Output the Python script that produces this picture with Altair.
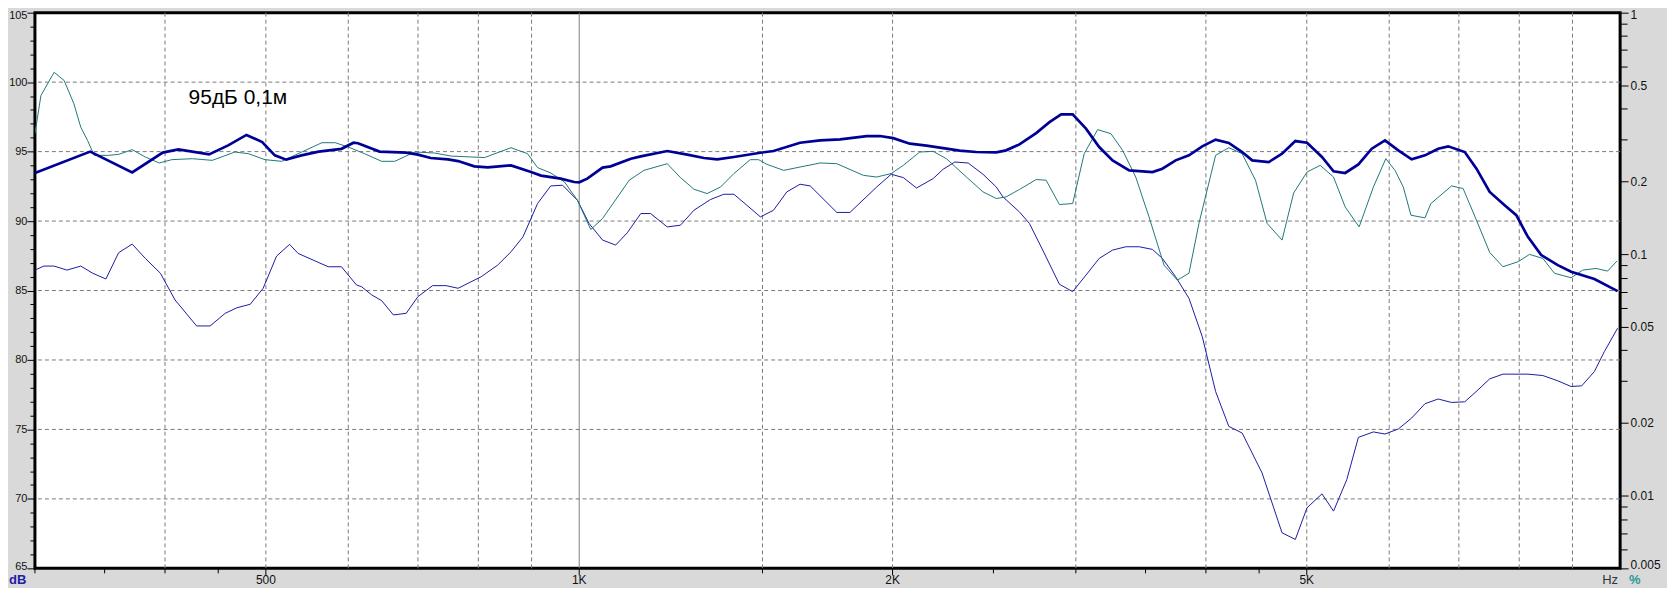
import altair as alt
import pandas as pd

# ---------------- data ----------------
navy_f = [300, 339, 372, 398, 412, 441, 460, 479, 496, 510, 523, 541, 562, 591, 607, 613,
          643, 682, 700, 720, 748, 765, 793, 817, 860, 899, 919, 960, 989, 1000, 1018, 1053,
          1072, 1121, 1146, 1215, 1270, 1318, 1357, 1408, 1493, 1537, 1630, 1704, 1781, 1889,
          1945, 2003, 2078, 2156, 2320, 2407, 2516, 2571, 2648, 2748, 2830, 2904, 2979, 3068,
          3159, 3254, 3376, 3554, 3633, 3741, 3853, 3968, 4087, 4208, 4334, 4431, 4597, 4734,
          4875, 5003, 5171, 5305, 5443, 5605, 5773, 5945, 6122, 6306, 6494, 6687, 6836, 7092,
          7278, 7494, 7746, 7948, 8155, 8399, 8712, 8973, 9447, 9945]
navy_db = [93.46, 95.0, 93.5, 94.93, 95.16, 94.8, 95.45, 96.2, 95.69, 94.73, 94.42, 94.73, 95.0,
           95.2, 95.64, 95.6, 95.0, 94.92, 94.78, 94.54, 94.44, 94.32, 93.94, 93.87, 94.01, 93.53,
           93.27, 93.05, 92.81, 92.79, 93.05, 93.85, 93.94, 94.49, 94.66, 95.04, 94.78, 94.54,
           94.44, 94.61, 94.92, 95.04, 95.64, 95.81, 95.88, 96.12, 96.12, 95.97, 95.57, 95.43,
           95.07, 94.97, 94.95, 95.09, 95.52, 96.33, 97.12, 97.68, 97.68, 96.65, 95.33, 94.37,
           93.65, 93.53, 93.77, 94.37, 94.73, 95.38, 95.86, 95.62, 94.97, 94.37, 94.25, 94.85,
           95.76, 95.64, 94.61, 93.58, 93.46, 94.08, 95.21, 95.81, 95.09, 94.44, 94.73, 95.21,
           95.38, 94.97, 93.77, 92.10, 91.14, 90.42, 88.86, 87.55, 86.83, 86.35, 85.83, 84.96]

teal_f = [300, 304, 313, 320, 327, 332, 337, 342, 353, 361, 372, 383, 395, 406, 425, 444, 467,
          481, 499, 518, 537, 566, 583, 600, 622, 646, 665, 695, 726, 753, 811, 860, 892, 912,
          939, 968, 996, 1026, 1053, 1117, 1154, 1215, 1251, 1289, 1327, 1367, 1408, 1460, 1487,
          1515, 1572, 1630, 1704, 1768, 1875, 1931, 1994, 2048, 2124, 2188, 2253, 2355, 2443,
          2516, 2571, 2648, 2748, 2809, 2893, 2979, 3056, 3148, 3242, 3327, 3425, 3527, 3646,
          3755, 3853, 3939, 4087, 4208, 4334, 4464, 4580, 4734, 4857, 5003, 5151, 5305, 5443,
          5614, 5794, 5955, 6078, 6190, 6296, 6494, 6580, 6888, 7066, 7278, 7494, 7717, 7977,
          8185, 8429, 8649, 8973, 9207, 9482, 9727, 9931]
teal_db = [96.29, 99.04, 100.71, 100.12, 98.44, 96.76, 95.81, 94.73, 94.73, 94.8, 95.14, 94.61,
           94.18, 94.42, 94.49, 94.37, 94.97, 94.85, 94.42, 94.30, 94.85, 95.64, 95.64, 95.33,
           94.85, 94.30, 94.30, 94.97, 94.90, 94.68, 94.57, 95.28, 94.85, 93.85, 93.46, 92.81,
           91.5, 89.39, 90.18, 92.94, 93.65, 94.13, 93.13, 92.29, 91.98, 92.45, 93.42, 94.42,
           94.42, 94.08, 93.65, 93.89, 94.18, 94.13, 93.29, 93.17, 93.42, 94.01, 94.97, 95.02,
           94.49, 93.17, 92.1, 91.62, 91.74, 92.27, 92.99, 92.94, 91.19, 91.26, 94.85, 96.58,
           96.29, 95.09, 93.17, 90.3, 86.83, 85.75, 86.24, 89.83, 94.73, 95.28, 94.85, 92.94,
           89.83, 88.63, 92.02, 93.53, 94.01, 93.17, 91.02, 89.58, 92.45, 94.49, 93.65, 92.45,
           90.42, 90.23, 91.26, 92.53, 92.34, 90.06, 87.74, 86.71, 87.07, 87.60, 87.31, 86.24,
           85.92, 86.47, 86.59, 86.40, 87.12]

blue_f = [300, 306, 313, 322, 332, 341, 351, 361, 372, 383, 396, 409, 429, 442, 457, 469, 483,
          497, 512, 527, 537, 574, 591, 611, 618, 632, 646, 663, 682, 700, 723, 745, 765, 805,
          835, 860, 883, 912, 939, 964, 996, 1022, 1053, 1084, 1112, 1146, 1171, 1215, 1251,
          1289, 1337, 1377, 1408, 1449, 1493, 1537, 1583, 1630, 1667, 1768, 1820, 1931, 1994,
          2048, 2109, 2188, 2237, 2295, 2364, 2443, 2516, 2553, 2648, 2707, 2788, 2893, 2979,
          3068, 3159, 3254, 3351, 3451, 3554, 3633, 3741, 3853, 3968, 4087, 4208, 4334, 4529,
          4734, 4875, 5003, 5171, 5305, 5463, 5605, 5794, 5945, 6122, 6306, 6494, 6687, 6888,
          7092, 7304, 7494, 7717, 8155, 8429, 8712, 8973, 9186, 9447, 9657, 9945]
blue_db = [86.47, 86.76, 86.76, 86.47, 86.76, 86.24, 85.83, 87.72, 88.34, 87.31, 86.24, 84.32,
           82.45, 82.45, 83.36, 83.76, 84.01, 85.16, 87.48, 88.32, 87.67, 86.71, 86.71, 85.40,
           85.27, 84.68, 84.27, 83.24, 83.36, 84.56, 85.35, 85.35, 85.16, 85.99, 86.83, 87.79,
           88.86, 91.26, 92.53, 92.58, 91.5, 89.83, 88.63, 88.27, 89.15, 90.54, 90.54, 89.58,
           89.7, 90.78, 91.55, 91.93, 91.93, 91.14, 90.30, 90.78, 92.1, 92.65, 92.53, 90.62,
           90.62, 92.45, 93.37, 93.13, 92.38, 93.06, 93.73, 94.25, 94.18, 93.37, 92.45, 91.74,
           90.66, 89.83, 87.91, 85.45, 84.92, 86.11, 87.31, 87.91, 88.15, 88.15, 87.96, 87.31,
           85.99, 84.44, 81.68, 77.73, 75.22, 74.74, 71.87, 67.56, 67.08, 69.36, 70.36, 69.12,
           71.39, 74.43, 74.82, 74.67, 75.03, 75.82, 76.85, 77.19, 76.94, 76.99, 77.85, 78.64,
           78.98, 78.98, 78.88, 78.50, 78.09, 78.14, 79.17, 80.6, 82.29]

# axes / grid values
x_major = [500, 1000, 2000, 5000]
x_major_labels = ["500", "1K", "2K", "5K"]
x_minor = [300, 350, 400, 450, 1500, 2500, 3000, 3500, 4000, 4500]
x_grid_dashed = [400, 500, 600, 700, 800, 900, 1500, 2000, 3000, 4000, 5000, 6000, 7000, 8000, 9000]
x_grid_solid = [1000]
y_ticks = list(range(65, 106))
y_grid = [70, 75, 80, 85, 90, 95, 100]
pct_ticks = [1, 0.9, 0.8, 0.7, 0.6, 0.5, 0.4, 0.3, 0.2,
             0.1, 0.09, 0.08, 0.07, 0.06, 0.05, 0.04, 0.03, 0.02,
             0.01, 0.009, 0.008, 0.007, 0.006, 0.005]
pct_labels = [1, 0.5, 0.2, 0.1, 0.05, 0.02, 0.01, 0.005]
note_text = ["95дБ 0,1м"]
note_f = [470]
note_db = [98.4]
unit_texts = ["dB", "Hz", "%"]

# ---------------- chart ----------------
W, H = 1589, 557
FONT = "Liberation Sans"
GRID = "#7a7a7a"
TXT = "#111111"
BASE = H + 16  # baseline of the texts under the frame

xscale = alt.Scale(type="log", domain=[300, 10000], nice=False, zero=False)
yscale = alt.Scale(domain=[65, 105], nice=False, zero=False)

y_axis = alt.Axis(
    orient="left",
    values=y_ticks,
    labelExpr="datum.value % 5 == 0 ? datum.label : ''",
    tickSize={"condition": {"test": "datum.value % 5 == 0", "value": 8}, "value": 5},
    tickColor="black", tickWidth=1, domain=False, grid=False,
    labelFont=FONT, labelFontSize=11, labelColor=TXT, labelPadding=0,
    labelOverlap=False, labelBound=False, labelFlush=True, labelFlushOffset=3,
    title=None,
)
pct_axis = alt.Axis(
    orient="right",
    values=pct_ticks,
    labelExpr="indexof([1,0.5,0.2,0.1,0.05,0.02,0.01,0.005], datum.value) >= 0 ? '' + datum.value : ''",
    tickSize={"condition": {"test": "indexof([1,0.5,0.2,0.1,0.05,0.02,0.01,0.005], datum.value) >= 0", "value": 8}, "value": 7},
    tickColor="black", tickWidth=1, domain=False, grid=False,
    labelFont=FONT, labelFontSize=12, labelColor=TXT, labelPadding=2,
    labelOverlap=False, labelBound=False, labelFlush=True, labelFlushOffset=3,
    title=None,
)

df_navy = pd.DataFrame({"f": navy_f, "db": navy_db})
df_teal = pd.DataFrame({"f": teal_f, "db": teal_db})
df_blue = pd.DataFrame({"f": blue_f, "db": blue_db})

X = alt.X("f:Q", scale=xscale, axis=None)
Ydb = alt.Y("db:Q", scale=yscale, axis=None)

vgrid = alt.Chart(pd.DataFrame({"f": x_grid_dashed})).mark_rule(
    color=GRID, strokeWidth=1, strokeDash=[4, 3]
).encode(x=X)

vsolid = alt.Chart(pd.DataFrame({"f": x_grid_solid})).mark_rule(
    color="#808080", strokeWidth=1
).encode(x=X)

hgrid = alt.Chart(pd.DataFrame({"db": y_grid})).mark_rule(
    color=GRID, strokeWidth=1, strokeDash=[4, 3]
).encode(y=Ydb)

# frequency axis: ticks and labels below the frame
xminor = alt.Chart(pd.DataFrame({"f": x_minor})).mark_rule(color="black", strokeWidth=1).encode(
    x=X, y=alt.value(H), y2=alt.value(H + 5),
)
xmajor = alt.Chart(pd.DataFrame({"f": x_major})).mark_rule(color="black", strokeWidth=1).encode(
    x=X, y=alt.value(H), y2=alt.value(H + 7),
)
xlabels = alt.Chart(pd.DataFrame({"f": x_major, "t": x_major_labels})).mark_text(
    font=FONT, fontSize=12, color=TXT, align="center", baseline="alphabetic"
).encode(x=X, y=alt.value(BASE), text="t:N")


def unit(txt, xpos, color, weight):
    return alt.Chart(pd.DataFrame({"t": [txt]})).mark_text(
        font=FONT, fontSize=13, align="left", baseline="alphabetic", color=color, fontWeight=weight
    ).encode(x=alt.value(xpos), y=alt.value(BASE), text="t:N")


u_db = unit(unit_texts[0], -26, "#2020a8", "bold")
u_hz = unit(unit_texts[1], W - 18, "#333333", "normal")
u_pc = unit(unit_texts[2], W + 9, "#2a9a9a", "bold")


def line(df, color, width, ya=None):
    return alt.Chart(df).mark_line(color=color, strokeWidth=width, clip=True).encode(
        x=X,
        y=alt.Y("db:Q", scale=yscale, axis=ya),
    )


l_blue = line(df_blue, "#1c1ca2", 1)
l_teal = line(df_teal, "#207878", 1)
l_navy = line(df_navy, "#000096", 2.7, y_axis)

note = alt.Chart(pd.DataFrame({"t": note_text, "f": note_f, "db": note_db})).mark_text(
    font=FONT, fontSize=21, color="black", align="center", baseline="alphabetic"
).encode(x=X, y=Ydb, text="t:N")

pct_layer = alt.Chart(pd.DataFrame({"p": pct_labels})).mark_point(opacity=0).encode(
    y=alt.Y("p:Q", scale=alt.Scale(type="log", domain=[0.005, 1], nice=False, zero=False), axis=pct_axis)
)

chart = alt.layer(
    vgrid, vsolid, hgrid, xminor, xmajor, xlabels, l_blue, l_teal, l_navy, note,
    pct_layer, u_db, u_hz, u_pc
).resolve_scale(
    y="independent"
).properties(
    width=W, height=H,
    autosize=alt.AutoSizeParams(type="none"),
    padding={"left": 27, "top": 4, "right": 47, "bottom": 19},
).configure(
    background="#d9d9d9"
).configure_view(
    fill="white", stroke="black", strokeWidth=3
)

chart.save("out.html", embed_options={"renderer": "svg", "actions": False})
